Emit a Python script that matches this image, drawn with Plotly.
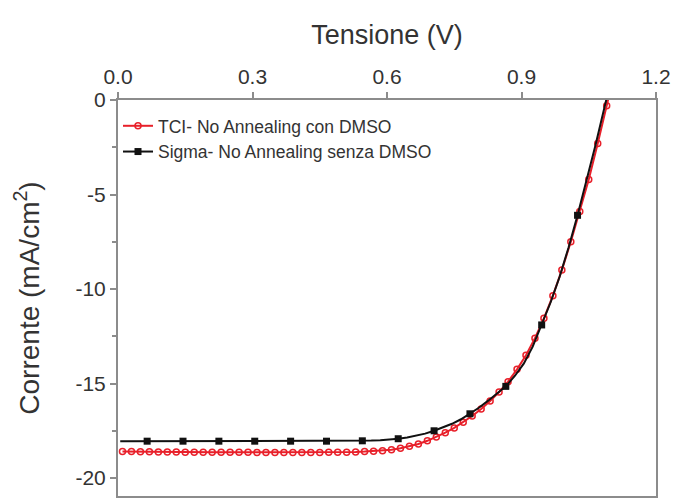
import plotly.graph_objects as go

# --- Data ---
# TCI - No Annealing con DMSO (red, open circles)
tci_v = [0.01, 0.03, 0.05, 0.07, 0.09, 0.11, 0.13, 0.15, 0.17, 0.19, 0.21, 0.23, 0.25, 0.27,
         0.29, 0.31, 0.33, 0.35, 0.37, 0.39, 0.41, 0.43, 0.45, 0.47, 0.49, 0.51, 0.53, 0.55,
         0.57, 0.59, 0.61, 0.63, 0.65, 0.67, 0.69, 0.71, 0.73, 0.75, 0.77, 0.79, 0.81, 0.83,
         0.85, 0.87, 0.89, 0.91, 0.93, 0.95, 0.97, 0.99, 1.01, 1.03, 1.05, 1.07, 1.09, 1.11]
tci_j = [-18.60, -18.60, -18.61, -18.61, -18.62, -18.62, -18.62, -18.63, -18.63, -18.63, -18.63,
         -18.64, -18.64, -18.64, -18.64, -18.65, -18.65, -18.65, -18.65, -18.65, -18.65, -18.65,
         -18.65, -18.64, -18.64, -18.63, -18.62, -18.60, -18.58, -18.55, -18.50, -18.42, -18.32,
         -18.20, -18.03, -17.83, -17.60, -17.35, -17.05, -16.72, -16.35, -15.93, -15.45, -14.90,
         -14.25, -13.50, -12.60, -11.55, -10.35, -9.00, -7.50, -5.90, -4.20, -2.30, -0.30, 1.70]

# Sigma - No Annealing senza DMSO (black, filled squares)
sigma_v = [0.005, 0.025, 0.045, 0.065, 0.085, 0.105, 0.125, 0.145, 0.165, 0.185, 0.205, 0.225,
           0.245, 0.265, 0.285, 0.305, 0.325, 0.345, 0.365, 0.385, 0.405, 0.425, 0.445, 0.465,
           0.485, 0.505, 0.525, 0.545, 0.565, 0.585, 0.605, 0.625, 0.645, 0.665, 0.685, 0.705,
           0.725, 0.745, 0.765, 0.785, 0.805, 0.825, 0.845, 0.865, 0.885, 0.905, 0.925, 0.945,
           0.965, 0.985, 1.005, 1.025, 1.045, 1.065, 1.085, 1.105]
sigma_j = [-18.05, -18.05, -18.05, -18.05, -18.05, -18.05, -18.05, -18.05, -18.05, -18.05, -18.05,
           -18.05, -18.05, -18.05, -18.05, -18.05, -18.05, -18.05, -18.05, -18.05, -18.05, -18.05,
           -18.05, -18.05, -18.05, -18.05, -18.04, -18.03, -18.02, -18.00, -17.97, -17.92, -17.86,
           -17.77, -17.65, -17.50, -17.33, -17.13, -16.89, -16.60, -16.28, -15.92, -15.55, -15.15,
           -14.60, -13.95, -13.05, -11.90, -10.70, -9.35, -7.80, -6.10, -4.30, -2.40, -0.40, 1.60]
sigma_marker_every = 4
sigma_marker_start = 3

tci_name = "TCI- No Annealing con DMSO"
sigma_name = "Sigma- No Annealing senza DMSO"

x_ticks = [0.0, 0.3, 0.6, 0.9, 1.2]
x_ticktext = ["0.0", "0.3", "0.6", "0.9", "1.2"]
y_ticks = [0, -5, -10, -15, -20]
y_ticktext = ["0", "-5", "-10", "-15", "-20"]

RED = "#e8202a"
BLACK = "#111111"
AXIS = "#8c8c8c"
TXT = "#333333"
FONT = "Liberation Sans, Arial, sans-serif"

sig_mv = sigma_v[sigma_marker_start::sigma_marker_every]
sig_mj = sigma_j[sigma_marker_start::sigma_marker_every]

fig = go.Figure()

fig.add_trace(go.Scatter(
    x=tci_v, y=tci_j, mode="lines+markers", name=tci_name,
    line=dict(color=RED, width=2),
    marker=dict(symbol="circle-open", size=6, color=RED, line=dict(width=1.5, color=RED)),
))
fig.add_trace(go.Scatter(
    x=sigma_v, y=sigma_j, mode="lines", showlegend=False,
    line=dict(color=BLACK, width=2),
))
fig.add_trace(go.Scatter(
    x=sig_mv, y=sig_mj, mode="markers", showlegend=False,
    marker=dict(symbol="square", size=7, color=BLACK),
))
# legend entry for the Sigma series (line + square marker)
fig.add_trace(go.Scatter(
    x=[None], y=[None], mode="lines+markers", name=sigma_name,
    line=dict(color=BLACK, width=2),
    marker=dict(symbol="square", size=7, color=BLACK),
))

fig.update_layout(
    width=676, height=498,
    margin=dict(l=118, r=20, t=100, b=0),
    paper_bgcolor="white", plot_bgcolor="white",
    font=dict(family=FONT, color=TXT),
    showlegend=True,
    legend=dict(
        x=0.0, y=0.98, xanchor="left", yanchor="top",
        bgcolor="rgba(0,0,0,0)", font=dict(size=17.5, color=TXT),
        tracegroupgap=0,
    ),
    xaxis=dict(
        side="top", range=[0, 1.2], tickvals=x_ticks, ticktext=x_ticktext,
        ticks="outside", ticklen=6, tickwidth=1.5, tickcolor=AXIS,
        showline=True, linecolor=AXIS, linewidth=2, mirror=True,
        showgrid=False, zeroline=False,
        tickfont=dict(size=21, color=TXT),
        title=dict(text="Tensione (V)", font=dict(size=27, color=TXT), standoff=12),
    ),
    yaxis=dict(
        range=[-20.95, 0], tickvals=y_ticks, ticktext=y_ticktext,
        ticks="outside", ticklen=6, tickwidth=1.5, tickcolor=AXIS,
        minor=dict(dtick=2.5, ticks="outside", ticklen=4, tickcolor=AXIS, tickwidth=1.5),
        showline=True, linecolor=AXIS, linewidth=2, mirror=True,
        showgrid=False, zeroline=False,
        tickfont=dict(size=21, color=TXT),
        title=dict(text="Corrente (mA/cm<sup>2</sup>)", font=dict(size=28, color=TXT), standoff=28),
    ),
)

fig.write_html("out.html")
